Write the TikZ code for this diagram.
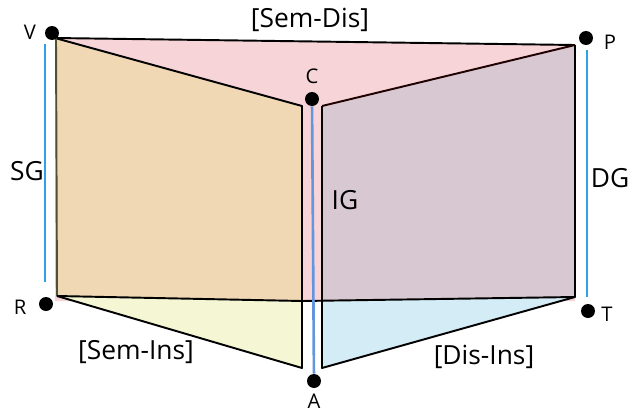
\documentclass[tikz,border=0pt]{standalone}
\usepackage{fontspec}
\setmainfont{Open Sans}
\definecolor{pinkf}{RGB}{247,212,215}
\definecolor{orangef}{RGB}{240,216,180}
\definecolor{mauvef}{RGB}{216,200,210}
\definecolor{yellowf}{RGB}{245,247,212}
\definecolor{bluef}{RGB}{212,236,246}
\definecolor{gline}{RGB}{50,160,232}
\definecolor{cline}{RGB}{100,150,222}
\definecolor{olive}{RGB}{80,80,50}
\begin{document}
\begin{tikzpicture}[x=0.02cm,y=-0.02cm,
  edge/.style={black,line width=1.1pt,line join=round},
  gauge/.style={gline,line width=1.5pt},
  dot/.style={circle,fill=black,inner sep=0pt,minimum size=0.28cm},
  lbl/.style={font=\fontsize{11.5}{13}\selectfont,inner sep=0pt},
  big/.style={font=\fontsize{15}{18}\selectfont,inner sep=0pt}]
\useasboundingbox (0,0) rectangle (630,413);
% back (pink) face
\fill[pinkf] (55,38) -- (575,45) -- (575,301) -- (55,301) -- cycle;
% bottom triangles
\fill[yellowf] (57,296) -- (302,301) -- (302,368) -- cycle;
\fill[bluef] (322,301) -- (575,297) -- (322,368) -- cycle;
% side faces
\fill[orangef] (55,38) -- (302,106) -- (302,301) -- (57,296) -- cycle;
\fill[mauvef] (322,106) -- (575,45) -- (575,297) -- (322,301) -- cycle;
% edges
\draw[edge] (55,38) -- (575,45);
\draw[edge] (55,38) -- (302,106) -- (302,368) -- (57,296);
\draw[olive,line width=1.1pt] (56,38) -- (57,296);
\draw[edge] (57,296) -- (302,301);
\draw[edge] (302,301) -- (575,297);
\draw[edge,black!80!red!60!black] (322,106) -- (575,45);
\draw[edge] (575,45) -- (575,297) -- (322,368) -- (322,106);
\draw[black,line width=1.6pt] (575,45) -- (575,297);
% dots
\node[dot] (V) at (52,33) {};
\node[dot] (P) at (586,38) {};
\node[dot] (C) at (312,99) {};
\node[dot] (R) at (46,304) {};
\node[dot] (T) at (588,311) {};
\node[dot] (A) at (314,381) {};
% gauge lines
\coordinate (sg1) at (45,44);
\coordinate (sg2) at (45,282);
\coordinate (dg1) at (587,50);
\coordinate (dg2) at (587,297);
\draw[gauge] (sg1) -- (sg2);
\draw[gauge] (dg1) -- (dg2);
\draw[cline,line width=1.5pt] (C) -- (A);
% labels
\node[lbl] (lV) at (30,32) {V};
\node[lbl] (lP) at (610,42) {P};
\node[lbl] (lC) at (312,76) {C};
\node[lbl] (lR) at (20,307) {R};
\node[lbl] (lT) at (607,314) {T};
\node[lbl] (lA) at (314,401) {A};
\node[big] (lSD) at (310,20) {[Sem-Dis]};
\node[big] (lSG) at (27,171) {SG};
\node[big] (lIG) at (345,200) {IG};
\node[big] (lDG) at (610,178) {DG};
\node[big] (lSI) at (136,352) {[Sem-Ins]};
\node[big] (lDI) at (484,357) {[Dis-Ins]};
\end{tikzpicture}
\end{document}
